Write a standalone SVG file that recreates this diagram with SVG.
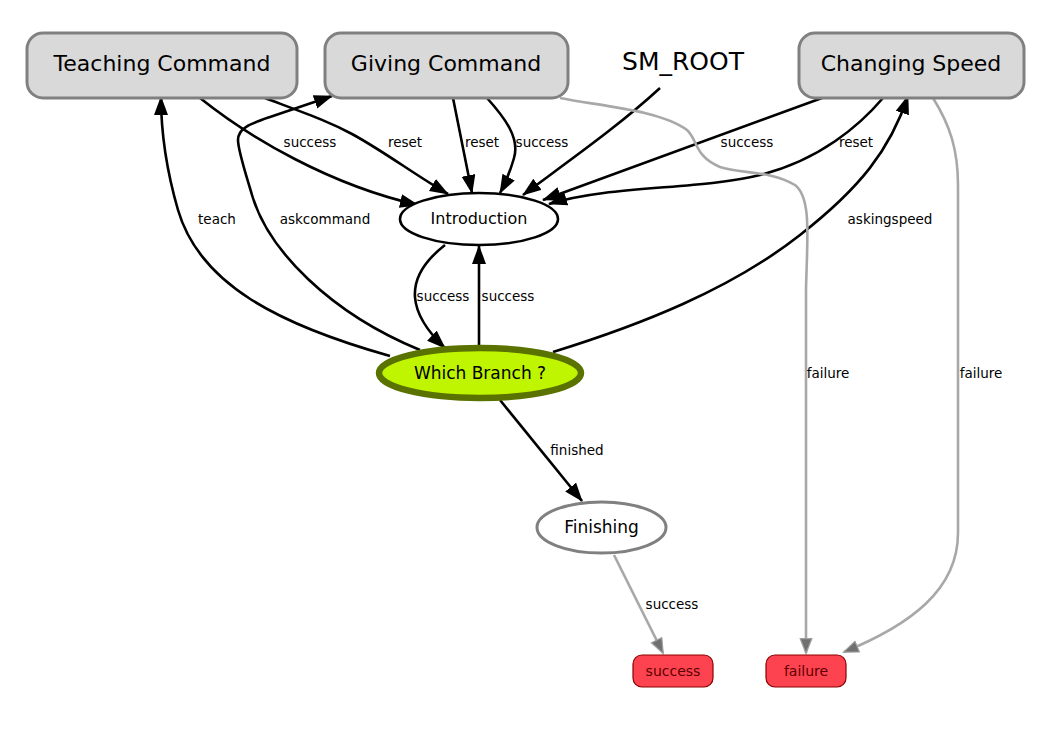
<svg xmlns="http://www.w3.org/2000/svg" width="1062" height="736" viewBox="0 0 1062 736">
<defs>
<style>
text{font-family:"DejaVu Sans","Liberation Sans",sans-serif;text-anchor:middle;fill:#000}
.big{font-size:22px}
.lbl{font-size:13.5px}
.state{fill:#d9d9d9;stroke:#808080;stroke-width:3}
.out{fill:#fe4350;stroke:#8b0000;stroke-width:1.2}
.outt{font-size:14px;fill:#5a0000}
.e{fill:none;stroke:#000;stroke-width:2.6;marker-end:url(#ab)}
.g{fill:none;stroke:#a8a8a8;stroke-width:2.6;marker-end:url(#ag)}
</style>
<marker id="ab" markerUnits="userSpaceOnUse" markerWidth="22" markerHeight="16" refX="18" refY="7" orient="auto"><path d="M0,0 L19,7 L0,14 z" fill="#000"/></marker>
<marker id="ag" markerUnits="userSpaceOnUse" markerWidth="20" markerHeight="16" refX="15" refY="6.5" orient="auto"><path d="M0.7,0.7 L15.5,6.5 L0.7,12.3 z" fill="#707070" stroke="#a0a0a0" stroke-width="1.2"/></marker>
</defs>
<rect width="1062" height="736" fill="#fff"/>
<g id="connectors">
<path class="e" d="M200,98 C250,138 330,185 418,205"/>
<path class="e" d="M265,98 C310,115 330,122 352,134 C385,152 415,175 448,194"/>
<path class="e" d="M453,98 L472,193"/>
<path class="e" d="M487,98 C505,118 520,138 514,158 C510,172 506,182 500,193"/>
<path class="e" d="M660,88 C620,125 570,160 523,195"/>
<path class="e" d="M822,98 L543,200"/>
<path class="e" d="M883,98 C860,125 820,160 760,175 C700,190 610,185 549,204"/>
<path class="e" d="M445,245 C400,280 410,315 445,348"/>
<path class="e" d="M479,347 L479,246"/>
<path class="e" d="M390,356 C280,325 200,285 178,210 C165,165 161,130 161,97"/>
<path class="e" d="M420,350 C330,313 268,250 252,195 C244,168 238,150 238,140 C238,128 250,124 270,117 L332,96"/>
<path class="e" d="M553,352 C640,325 730,290 800,235 C860,188 890,150 908,96"/>
<path class="e" d="M500,400 L582,501"/>
<path class="g" d="M614,555 L663,653"/>
<path class="g" d="M560,98 C600,106 660,110 687,130 C698,140 694,156 720,167 C740,174 770,170 795,185 C812,198 807,240 806,290 L806,653"/>
<path class="g" d="M933,98 C950,125 958,150 958,185 L958,533 C958,590 910,625 844,652"/>
<text class="lbl" x="310" y="147">success</text>
<text class="lbl" x="405" y="147">reset</text>
<text class="lbl" x="482" y="147">reset</text>
<text class="lbl" x="542" y="147">success</text>
<text class="lbl" x="747" y="147">success</text>
<text class="lbl" x="856" y="147">reset</text>
<text class="lbl" x="217" y="224">teach</text>
<text class="lbl" x="325" y="224">askcommand</text>
<text class="lbl" x="890" y="224">askingspeed</text>
<text class="lbl" x="443" y="301">success</text>
<text class="lbl" x="508" y="301">success</text>
<text class="lbl" x="828" y="378">failure</text>
<text class="lbl" x="981" y="378">failure</text>
<text class="lbl" x="577" y="455">finished</text>
<text class="lbl" x="672" y="609">success</text>
</g>
<g id="teaching"><rect class="state" x="27" y="33" width="270" height="65" rx="16"/><text class="big" x="162" y="71">Teaching Command</text></g>
<g id="giving"><rect class="state" x="325" y="33" width="243" height="65" rx="16"/><text class="big" x="446" y="71">Giving Command</text></g>
<g id="changing"><rect class="state" x="799" y="33" width="225" height="65" rx="16"/><text class="big" x="911" y="71">Changing Speed</text></g>
<g id="smroot"><text x="683" y="70" style="font-size:25px">SM_ROOT</text></g>
<g id="introduction"><ellipse cx="479" cy="219" rx="79" ry="26" fill="#fff" stroke="#000" stroke-width="2.6"/><text x="479" y="224" style="font-size:16px">Introduction</text></g>
<g id="whichbranch"><ellipse cx="480" cy="373" rx="101" ry="25" fill="#bff500" stroke="#5a7300" stroke-width="6.5"/><text x="480" y="379" style="font-size:17px">Which Branch ?</text></g>
<g id="finishing"><ellipse cx="601.5" cy="527.5" rx="64.5" ry="25.5" fill="#fff" stroke="#808080" stroke-width="3"/><text x="601.5" y="533" style="font-size:17px">Finishing</text></g>
<g id="success"><rect class="out" x="633" y="655" width="80" height="32" rx="9"/><text class="outt" x="673" y="676">success</text></g>
<g id="failure"><rect class="out" x="766" y="655" width="80" height="32" rx="9"/><text class="outt" x="806" y="676">failure</text></g>
</svg>
